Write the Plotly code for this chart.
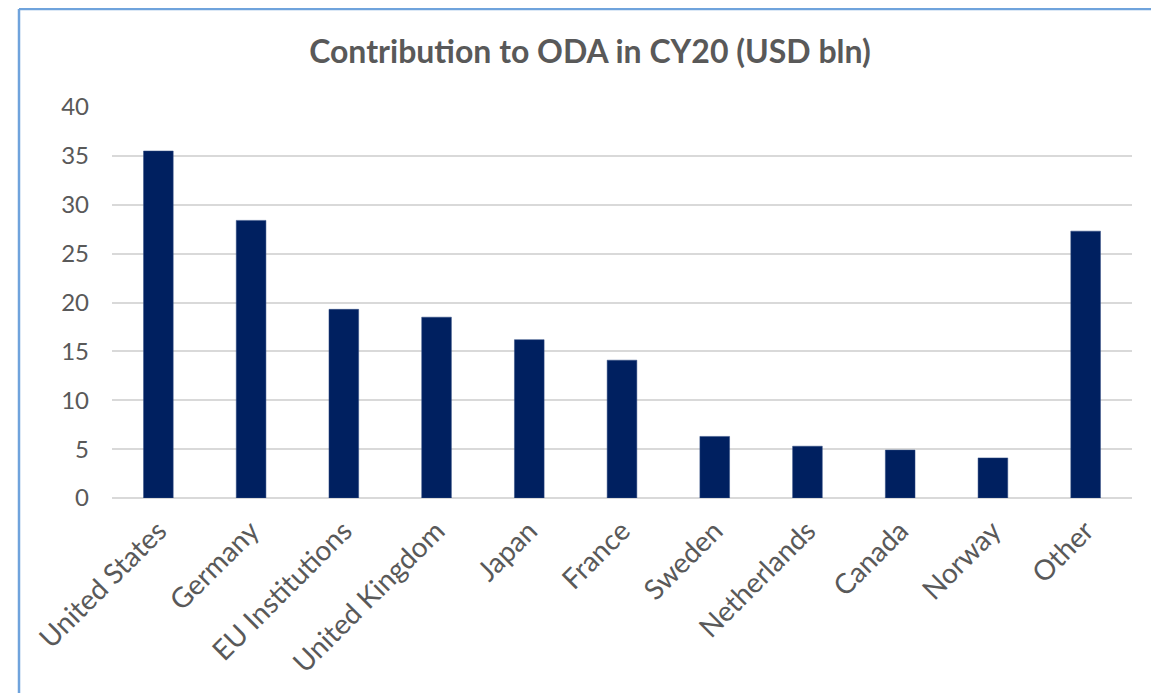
import plotly.graph_objects as go

categories = ["United States", "Germany", "EU Institutions", "United Kingdom", "Japan",
              "France", "Sweden", "Netherlands", "Canada", "Norway", "Other"]
values = [35.5, 28.4, 19.3, 18.5, 16.2, 14.1, 6.3, 5.3, 4.9, 4.1, 27.3]
title_text = "Contribution to ODA in CY20 (USD bln)"

W, H = 1159, 693
OFF = 8  # page body margin
L, T = 112 - OFF, 107 - OFF
R = W - (1132 - OFF)
B = H - (498 - OFF)
pw, ph = W - L - R, H - T - B

fig = go.Figure(go.Bar(x=categories, y=values, marker=dict(color="#002060",
                       line=dict(color="#2f4a80", width=0.5))))

def px2paper_x(px):
    return (px - OFF - L) / pw

def py2paper_y(py):
    return (H - B - (py - OFF)) / ph

border = "#6fa3dc"
fig.update_layout(
    width=W, height=H,
    margin=dict(l=L, r=R, t=T, b=B),
    paper_bgcolor="white", plot_bgcolor="white",
    bargap=0.68,
    showlegend=False,
    font=dict(family="Lato, Carlito, sans-serif", color="#595959"),
    title=dict(text="<b>" + title_text + "</b>", x=(590 - OFF) / W, xanchor="center",
               y=1 - (52 - OFF) / H, yanchor="middle", xref="container", yref="container",
               font=dict(size=32, color="#595959", family="Lato, sans-serif")),
    xaxis=dict(tickangle=-45, tickfont=dict(size=28, color="#595959"),
               showgrid=False, showline=False, ticks="", ticklabelstandoff=10),
    yaxis=dict(range=[0, 40], dtick=5, tickfont=dict(size=24, color="#595959"),
               gridcolor="#d9d9d9", gridwidth=1.5, zeroline=True, zerolinecolor="#d9d9d9",
               zerolinewidth=1.5, showline=False, ticklabelstandoff=22),
    shapes=[
        dict(type="line", xref="paper", yref="paper", x0=px2paper_x(19), x1=px2paper_x(W + 20),
             y0=py2paper_y(9), y1=py2paper_y(9), line=dict(color=border, width=2.5)),
        dict(type="line", xref="paper", yref="paper", x0=px2paper_x(19), x1=px2paper_x(19),
             y0=py2paper_y(9), y1=py2paper_y(H + 20), line=dict(color=border, width=2.5)),
    ],
)

fig.write_html("out.html")
